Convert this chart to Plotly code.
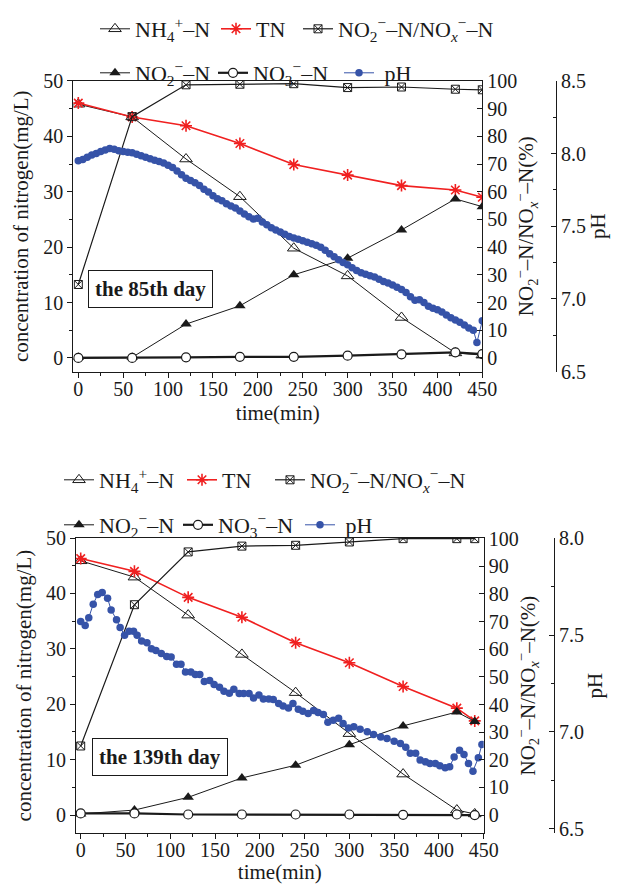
import plotly.graph_objects as go

# ---------------- data: the 85th day ----------------
t85 = [0, 60, 120, 180, 240, 300, 360, 420, 450]
nh4_85 = [45.8, 43.5, 35.9, 29.1, 19.8, 14.8, 7.3, 0.9, 0.5]
tn_85 = [46.0, 43.5, 41.9, 38.7, 34.9, 33.0, 31.1, 30.3, 29.0]
no2_85 = [0.1, 0.1, 6.1, 9.4, 15.0, 18.0, 23.1, 28.7, 27.3]
no3_85 = [0.0, 0.0, 0.1, 0.2, 0.2, 0.4, 0.65, 1.0, 0.7]
ratio_85 = [26.5, 87.1, 98.6, 98.8, 99.0, 97.6, 97.8, 97.0, 96.8]

ph_t85 = [0, 5, 10, 15, 20, 25, 30, 35, 40, 45, 50, 55, 60, 65, 70, 75, 80, 85, 90, 95,
          100, 105, 110, 115, 120, 125, 130, 135, 140, 145, 150, 155, 160, 165, 170, 175,
          180, 185, 190, 195, 200, 205, 210, 215, 220, 225, 230, 235, 240, 245, 250, 255,
          260, 265, 270, 275, 280, 285, 290, 295, 300, 305, 310, 315, 320, 325, 330, 335,
          340, 345, 350, 355, 360, 365, 370, 375, 380, 385, 390, 395, 400, 405, 410, 415,
          420, 425, 430, 435, 440, 444, 450]
ph_85 = [7.95, 7.96, 7.975, 7.99, 8.00, 8.015, 8.025, 8.035, 8.03, 8.02, 8.015, 8.01, 8.005,
         7.995, 7.985, 7.975, 7.965, 7.955, 7.945, 7.935, 7.92, 7.905, 7.88, 7.855, 7.83,
         7.815, 7.80, 7.78, 7.755, 7.735, 7.71, 7.69, 7.675, 7.655, 7.64, 7.625, 7.605,
         7.585, 7.565, 7.55, 7.555, 7.53, 7.51, 7.49, 7.475, 7.46, 7.445, 7.43, 7.42, 7.41,
         7.40, 7.39, 7.38, 7.37, 7.355, 7.335, 7.31, 7.29, 7.27, 7.25, 7.235, 7.215, 7.195,
         7.18, 7.17, 7.16, 7.15, 7.135, 7.12, 7.11, 7.095, 7.08, 7.065, 7.045, 7.015, 6.99,
         6.995, 6.975, 6.95, 6.935, 6.925, 6.91, 6.89, 6.87, 6.855, 6.84, 6.82, 6.80, 6.785,
         6.70, 6.85]

# ---------------- data: the 139th day ----------------
t139 = [0, 60, 120, 180, 240, 300, 360, 420, 440]
nh4_139 = [45.9, 42.95, 36.1, 29.0, 22.1, 14.7, 7.4, 0.9, 0.2]
tn_139 = [46.3, 44.0, 39.3, 35.7, 31.1, 27.5, 23.2, 19.3, 17.0]
no2_139 = [0.2, 0.9, 3.2, 6.7, 9.0, 12.7, 16.1, 18.6, 16.9]
no3_139 = [0.3, 0.3, 0.1, 0.1, 0.1, 0.1, 0.05, 0.1, 0.0]
ratio_139 = [25.0, 76.1, 95.2, 97.3, 97.6, 98.8, 100.0, 100.0, 100.0]

ph_t139 = [0, 5, 9, 14, 19, 24, 30, 34, 40, 44, 49, 54, 59, 63, 68, 74, 79, 84, 90, 96,
           101, 107, 112, 117, 123, 128, 133, 138, 144, 149, 155, 160, 166, 171, 177, 182,
           188, 193, 199, 204, 210, 215, 221, 226, 232, 237, 243, 248, 254, 260, 265, 271,
           276, 282, 288, 293, 299, 305, 312, 320, 327, 335, 342, 350, 357, 363, 368, 374,
           379, 385, 390, 396, 401, 407, 412, 417, 423, 428, 433, 438, 444, 448]
ph_139 = [7.57, 7.55, 7.59, 7.66, 7.71, 7.72, 7.69, 7.63, 7.58, 7.54, 7.50, 7.52, 7.52,
          7.50, 7.47, 7.46, 7.43, 7.42, 7.405, 7.39, 7.387, 7.35, 7.35, 7.31, 7.31, 7.296,
          7.296, 7.26, 7.265, 7.245, 7.23, 7.21, 7.20, 7.22, 7.198, 7.198, 7.198, 7.175,
          7.19, 7.17, 7.17, 7.167, 7.147, 7.134, 7.124, 7.147, 7.117, 7.107, 7.095, 7.11,
          7.10, 7.09, 7.05, 7.06, 7.07, 7.043, 7.02, 7.026, 7.014, 7.00, 6.986, 6.974,
          6.966, 6.952, 6.94, 6.92, 6.89, 6.89, 6.854, 6.845, 6.837, 6.837, 6.825, 6.815,
          6.82, 6.87, 6.905, 6.883, 6.837, 6.797, 6.866, 6.935]

x_ticks = [0, 50, 100, 150, 200, 250, 300, 350, 400, 450]

# ---------------- labels ----------------
lab_nh4 = "NH<sub>4</sub><sup>+</sup>–N"
lab_tn = "TN"
lab_ratio = "NO<sub>2</sub><sup>−</sup>–N/NO<sub><i>x</i></sub><sup>−</sup>–N"
lab_no2 = "NO<sub>2</sub><sup>−</sup>–N"
lab_no3 = "NO<sub>3</sub><sup>−</sup>–N"
lab_ph = " pH"
ratio_title = "NO<sub>2</sub><sup>−</sup>–N/NO<sub><i>x</i></sub><sup>−</sup>–N(%)"

FONT = "Liberation Serif"
BLACK = "#1a1a1a"
RED = "#f02020"
BLUE = "#3653a8"

# the page body adds an 8px offset; lay out in page pixels
OFF = 8
W, H = 619 - OFF, 884 - OFF


def px(x):
    return (x - OFF) / W


def py(y):
    return 1 - (y - OFF) / H


fig = go.Figure()


def add_panel(t, nh4, tn, no2, no3, ratio, pht, ph, xa, ya, yb, yc, lgs):
    fig.add_trace(go.Scatter(x=t, y=nh4, name=lab_nh4, mode="lines+markers",
                             line=dict(color=BLACK, width=1),
                             marker=dict(symbol="triangle-up-open", size=11, color=BLACK, line=dict(width=1)),
                             xaxis=xa, yaxis=ya, legend=lgs[0]))
    fig.add_trace(go.Scatter(x=t, y=tn, name=lab_tn, mode="lines+markers",
                             line=dict(color=RED, width=1.6),
                             marker=dict(symbol="asterisk-open", size=10, color=RED, line=dict(width=1.6, color=RED)),
                             xaxis=xa, yaxis=ya, legend=lgs[1]))
    fig.add_trace(go.Scatter(x=t, y=ratio, name=lab_ratio, mode="lines+markers",
                             line=dict(color=BLACK, width=1.2),
                             marker=dict(symbol="square-x-open", size=8, color=BLACK, line=dict(width=1)),
                             xaxis=xa, yaxis=yb, legend=lgs[2]))
    fig.add_trace(go.Scatter(x=t, y=no2, name=lab_no2, mode="lines+markers",
                             line=dict(color=BLACK, width=1),
                             marker=dict(symbol="triangle-up", size=10, color=BLACK),
                             xaxis=xa, yaxis=ya, legend=lgs[3]))
    fig.add_trace(go.Scatter(x=t, y=no3, name=lab_no3, mode="lines+markers",
                             line=dict(color=BLACK, width=2.2),
                             marker=dict(symbol="circle", size=9, color="white", line=dict(width=1.2, color=BLACK)),
                             xaxis=xa, yaxis=ya, legend=lgs[4]))
    fig.add_trace(go.Scatter(x=pht, y=ph, name=lab_ph, mode="lines+markers",
                             line=dict(color=BLUE, width=1),
                             marker=dict(symbol="circle", size=7.5, color=BLUE),
                             xaxis=xa, yaxis=yc, legend=lgs[5]))


top_legs = ["legend", "legend2", "legend3", "legend4", "legend5", "legend6"]
bot_legs = ["legend7", "legend8", "legend9", "legend10", "legend11", "legend12"]

add_panel(t85, nh4_85, tn_85, no2_85, no3_85, ratio_85, ph_t85, ph_85,
          "x", "y", "y2", "y3", top_legs)
add_panel(t139, nh4_139, tn_139, no2_139, no3_139, ratio_139, ph_t139, ph_139,
          "x2", "y4", "y5", "y6", bot_legs)

tickfont = dict(family=FONT, size=20, color=BLACK)
titlefont = dict(family=FONT, size=21, color=BLACK)
common = dict(showline=True, linecolor=BLACK, linewidth=1, showgrid=False, zeroline=False,
              tickfont=tickfont, automargin=False, tickcolor=BLACK)


def xaxis_def(domain, rng, anchor):
    return dict(domain=domain, range=rng, anchor=anchor, mirror=True, ticks="outside",
                ticklen=5, tickvals=x_ticks, ticklabelstandoff=-6,
                minor=dict(dtick=25, tick0=0, ticks="outside", ticklen=3, tickcolor=BLACK),
                title=dict(text="time(min)", font=titlefont, standoff=6), **common)


def yleft_def(domain, rng, anchor):
    return dict(domain=domain, range=rng, anchor=anchor, ticks="outside", ticklen=5,
                tickvals=[0, 10, 20, 30, 40, 50],
                minor=dict(dtick=5, tick0=0, ticks="outside", ticklen=3, tickcolor=BLACK),
                title=dict(text="concentration of nitrogen(mg/L)", font=titlefont, standoff=8),
                **common)


def yratio_def(rng, anchor, over):
    return dict(range=rng, anchor=anchor, overlaying=over, side="right", ticks="inside",
                ticklen=5, tickvals=[0, 10, 20, 30, 40, 50, 60, 70, 80, 90, 100],
                title=dict(text=ratio_title, font=titlefont, standoff=2), **common)


def yph_def(rng, over, pos, vals):
    return dict(range=rng, anchor="free", overlaying=over, side="right", position=pos,
                ticks="inside", ticklen=5, tickvals=vals, tickformat=".1f",
                minor=dict(dtick=0.25, tick0=6.5, ticks="inside", ticklen=3, tickcolor=BLACK),
                title=dict(text="pH", font=titlefont, standoff=4), **common)


top_y = [py(371), py(80)]
bot_y = [py(833), py(537.7)]

fig.update_layout(
    width=W, height=H, autosize=False,
    margin=dict(l=0, r=0, t=0, b=0),
    paper_bgcolor="white", plot_bgcolor="white",
    font=dict(family=FONT, color=BLACK),
    xaxis=xaxis_def([px(73.3), px(482.3)], [-5.57, 450], "y"),
    yaxis=yleft_def(top_y, [-2.47, 50], "x"),
    yaxis2=yratio_def([-4.94, 100], "x", "y"),
    yaxis3=yph_def([6.5, 8.5], "y", px(556), [6.5, 7.0, 7.5, 8.0, 8.5]),
    xaxis2=xaxis_def([px(76), px(483.7)], [-5.25, 450], "y4"),
    yaxis4=yleft_def(bot_y, [-3.25, 50], "x2"),
    yaxis5=yratio_def([-6.5, 100.2], "x2", "y4"),
    yaxis6=yph_def([6.477, 8.0015], "y4", px(554), [6.5, 7.0, 7.5, 8.0]),
    showlegend=True,
)

leg_common = dict(orientation="h", xanchor="left", yanchor="middle", bgcolor="rgba(0,0,0,0)",
                  font=dict(family=FONT, size=22, color=BLACK), traceorder="normal",
                  itemclick=False, itemdoubleclick=False)
# legend entries: (legend id, line start x in page px, row centre y in page px)
leg_pos = [
    ("legend", 101, 28), ("legend2", 222, 28), ("legend3", 304, 28),
    ("legend4", 101, 73), ("legend5", 219, 73), ("legend6", 345, 73),
    ("legend7", 65, 480), ("legend8", 188, 480), ("legend9", 276, 480),
    ("legend10", 65, 525), ("legend11", 184, 525), ("legend12", 306, 525),
]
fig.update_layout(**{name: dict(x=px(xs - 6), y=py(yc), **leg_common) for name, xs, yc in leg_pos})

box_font = dict(family=FONT, size=21, color=BLACK)
fig.add_annotation(x=px(150.5), y=py(288.7), xref="paper", yref="paper",
                   xanchor="center", yanchor="middle",
                   text="<b>the 85th day</b>", showarrow=False, font=box_font,
                   bordercolor=BLACK, borderwidth=1, borderpad=6, bgcolor="white")
fig.add_annotation(x=px(160), y=py(757), xref="paper", yref="paper",
                   xanchor="center", yanchor="middle",
                   text="<b>the 139th day</b>", showarrow=False, font=box_font,
                   bordercolor=BLACK, borderwidth=1, borderpad=6, bgcolor="white")

fig.write_html("out.html")
